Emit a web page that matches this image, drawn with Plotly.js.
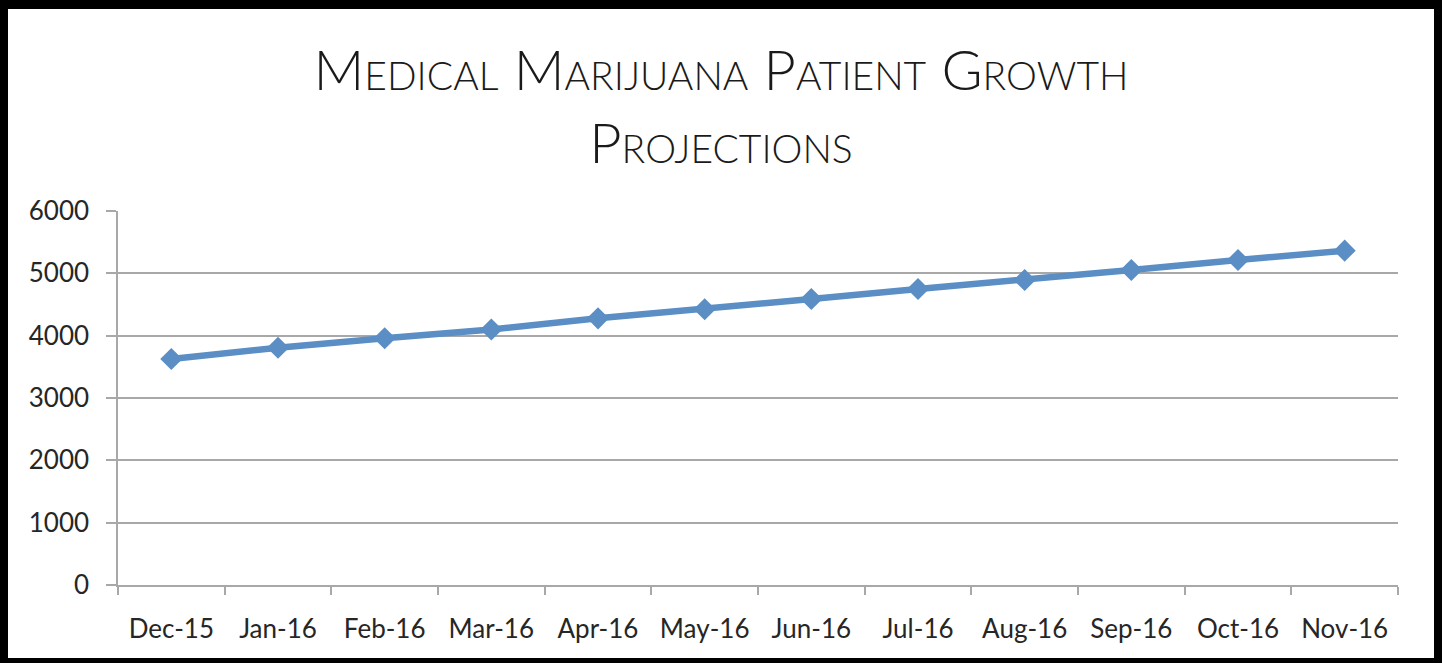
<!DOCTYPE html>
<html>
<head>
<meta charset="utf-8">
<script src="https://cdn.plot.ly/plotly-3.0.1.min.js"></script>
<style>
  html, body { margin: 0; padding: 0; background: #fff; }
  #frame { width: 1442px; height: 663px; box-sizing: border-box;
           border-style: solid; border-color: #000; border-width: 9px 8px 5px 8px; }
  #chart { width: 1426px; height: 649px; }
</style>
</head>
<body>
<div id="frame"><div id="chart"></div></div>
<script>
const months = ["Dec-15","Jan-16","Feb-16","Mar-16","Apr-16","May-16","Jun-16","Jul-16","Aug-16","Sep-16","Oct-16","Nov-16"];
const patients = [3626, 3807, 3958, 4100, 4278, 4423, 4588, 4749, 4893, 5054, 5214, 5364];
const yTicks = [0, 1000, 2000, 3000, 4000, 5000, 6000];
const chartTitle = "Medical Marijuana Patient Growth<br>Projections";

const lineColor = "#5a8ec4";
const gridColor = "#a8a8a8";
const tickFont = { family: "Lato, 'Open Sans', sans-serif", size: 26, color: "#262626" };

const trace = {
  type: "scatter",
  mode: "lines+markers",
  x: months,
  y: patients,
  line: { color: lineColor, width: 6.5 },
  marker: { symbol: "diamond", size: 17, color: lineColor },
  hoverinfo: "x+y"
};

const layout = {
  width: 1426, height: 649,
  margin: { l: 110, r: 36, t: 202, b: 73 },
  paper_bgcolor: "#fff", plot_bgcolor: "#fff",
  showlegend: false,
  title: {
    text: chartTitle,
    font: { family: "Lato, 'Open Sans', sans-serif", size: 56, weight: 300, color: "#1a1a1a", variant: "small-caps" },
    x: 0.5, xanchor: "center",
    y: 0.875, yref: "container", yanchor: "top"
  },
  xaxis: {
    type: "category",
    tickson: "boundaries",
    ticks: "outside", ticklen: 8, tickwidth: 1.5, tickcolor: gridColor,
    showline: true, linecolor: gridColor, linewidth: 1.5,
    showgrid: false, zeroline: false,
    tickfont: tickFont,
    ticklabelstandoff: 20,
    range: [-0.5, 11.5],
    fixedrange: true
  },
  yaxis: {
    range: [0, 6000],
    tickvals: yTicks,
    ticktext: yTicks.map(String),
    ticks: "outside", ticklen: 10, tickwidth: 1.5, tickcolor: gridColor,
    showline: true, linecolor: gridColor, linewidth: 1.5,
    showgrid: true, gridcolor: gridColor, gridwidth: 1.5,
    zeroline: false,
    tickfont: tickFont,
    ticklabelstandoff: 12,
    fixedrange: true
  }
};

Plotly.newPlot("chart", [trace], layout, { displayModeBar: false, responsive: false });
</script>
</body>
</html>
